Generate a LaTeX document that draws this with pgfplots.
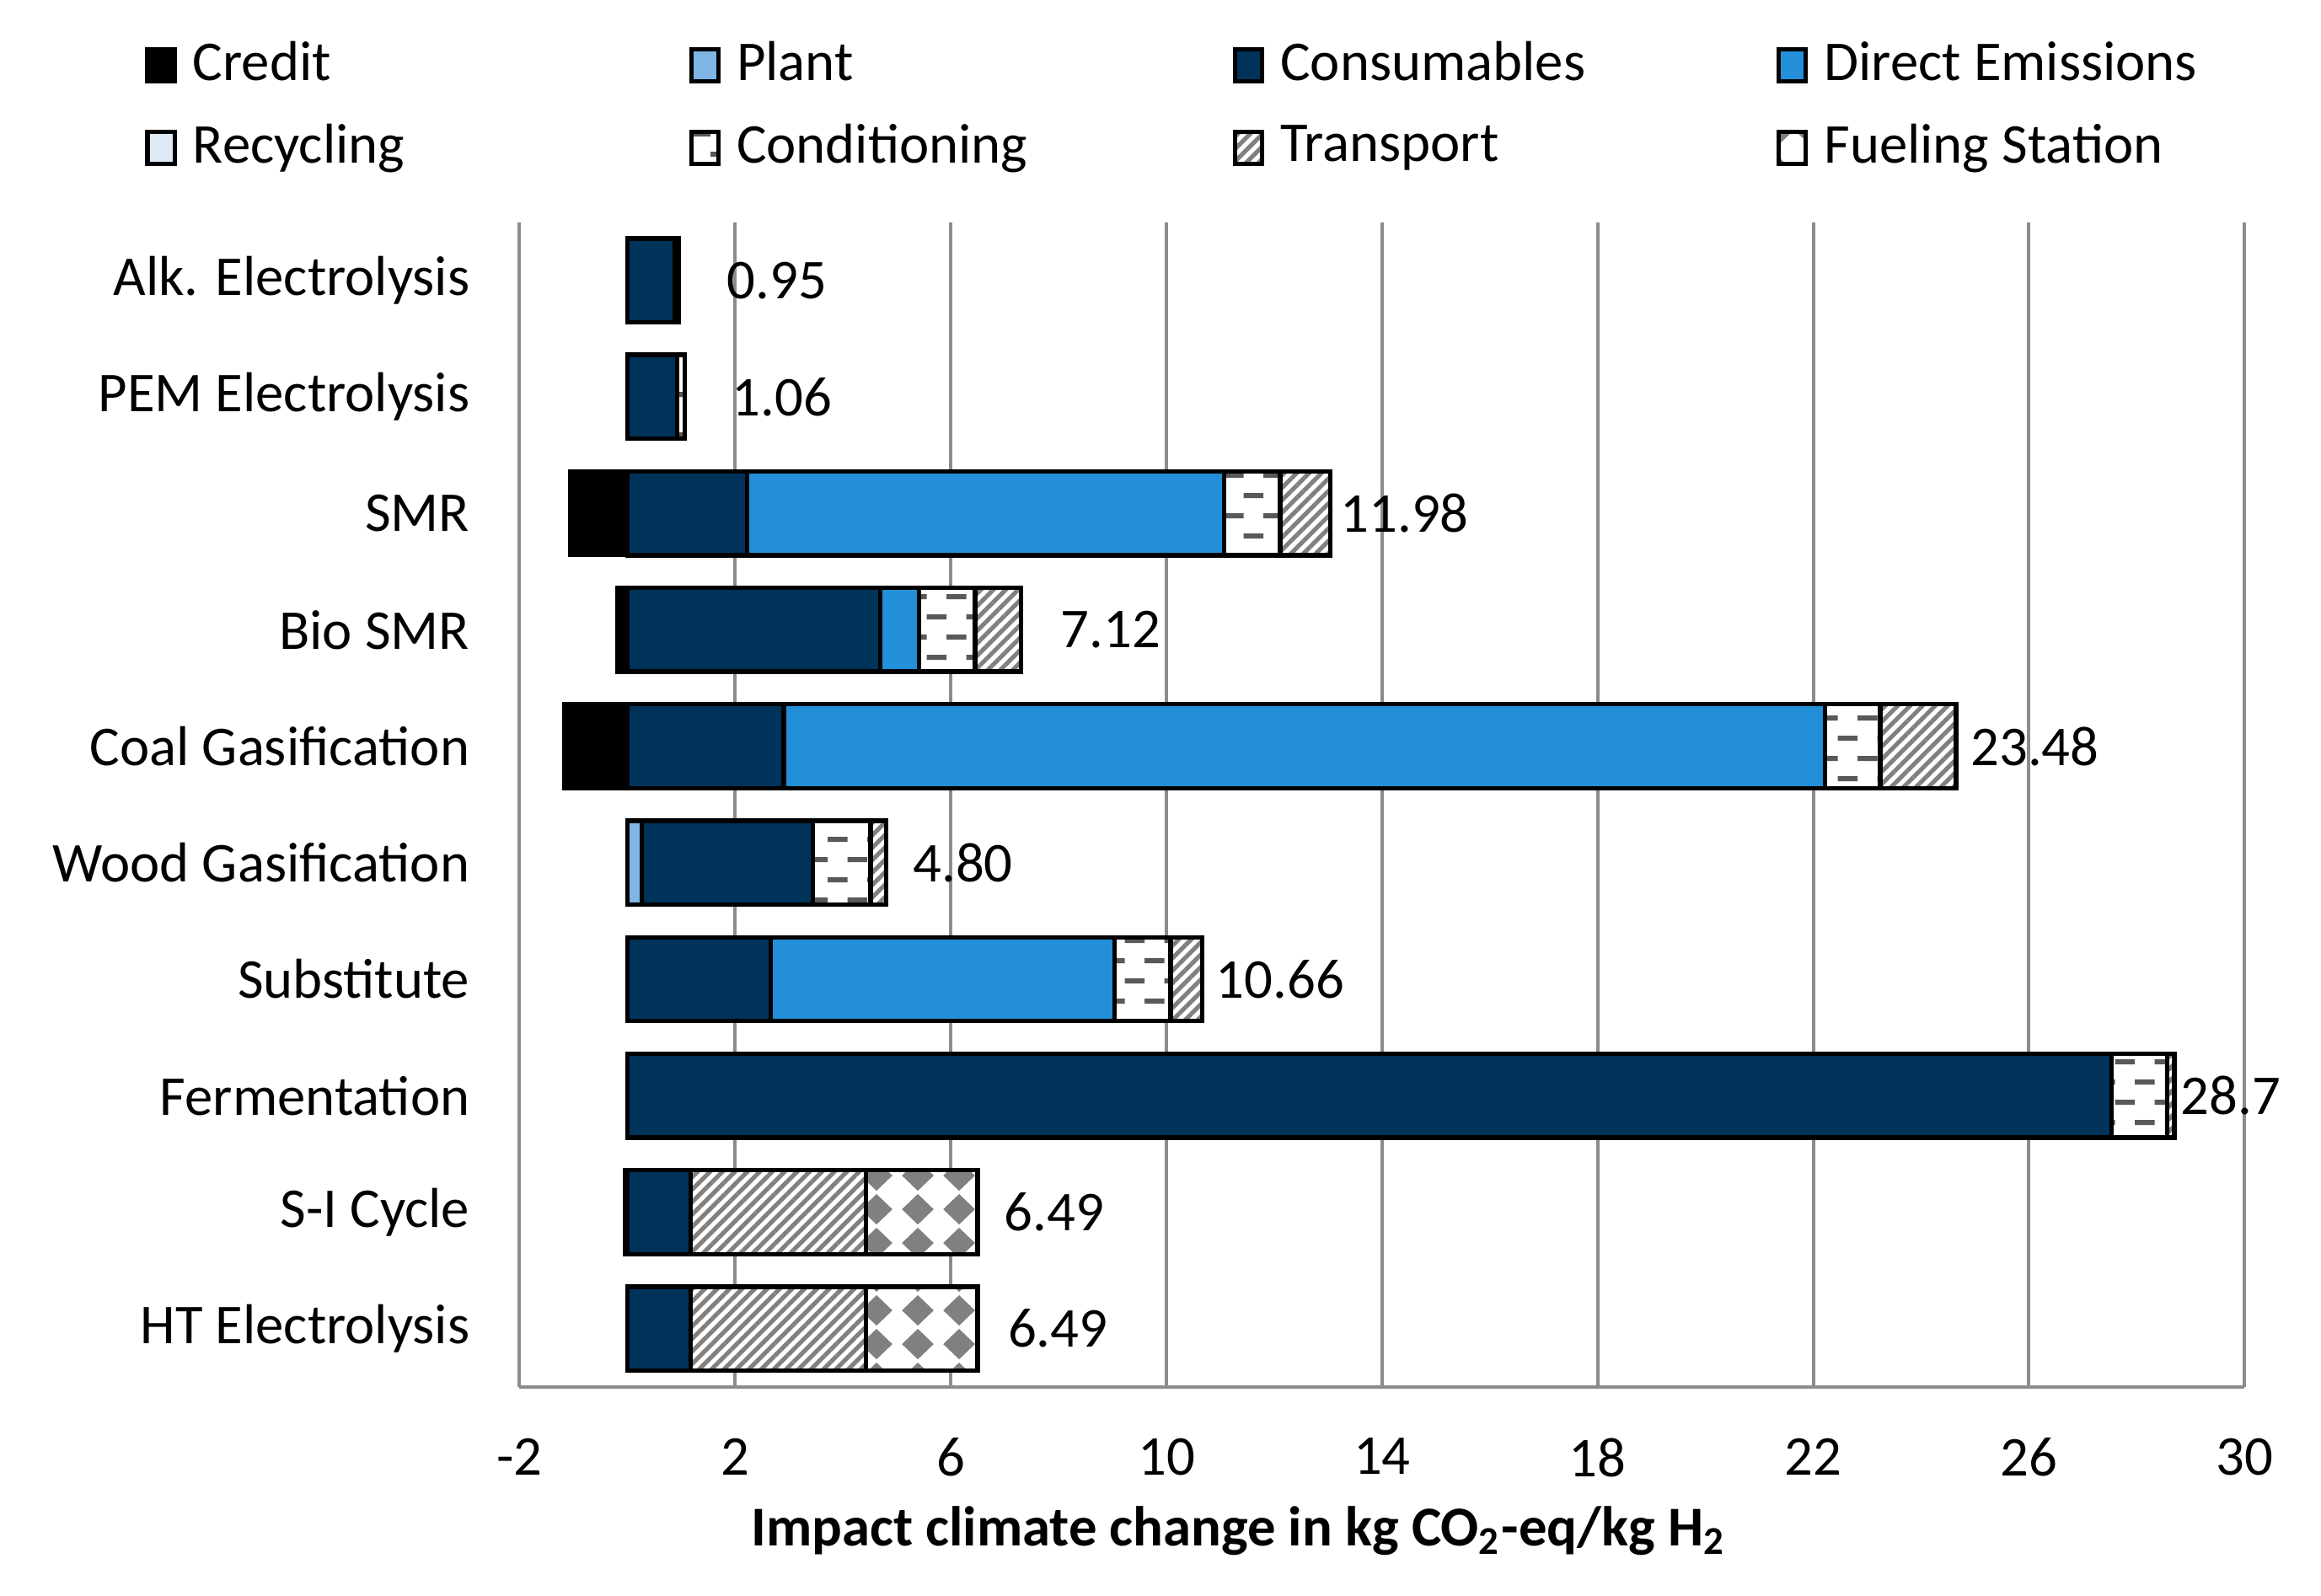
\documentclass[border=0pt]{standalone}
\usepackage{fontspec}
\setmainfont{Carlito}
\usepackage{pgfplots}
\usepackage{pgfplotstable}
\pgfplotsset{compat=1.18}
\usetikzlibrary{patterns,patterns.meta}

\definecolor{consum}{RGB}{0,51,89}
\definecolor{direct}{RGB}{34,143,216}
\definecolor{plant}{RGB}{127,182,229}
\definecolor{recyc}{RGB}{222,235,247}
\definecolor{hatch}{RGB}{128,128,128}
\definecolor{dashgray}{RGB}{89,89,89}
\definecolor{gridgray}{RGB}{140,140,140}

% dashes for Conditioning
\tikzdeclarepattern{
  name=condash, type=uncolored,
  bottom left={(0cm,0cm)}, top right={(0.25cm,0.252cm)},
  tile size={(0.25cm,0.252cm)},
  code={
    \draw[line width=0.9pt] (0.0625cm,0.063cm) -- (0.1875cm,0.063cm);
    \draw[line width=0.9pt] (0cm,0.189cm) -- (0.0625cm,0.189cm);
    \draw[line width=0.9pt] (0.1875cm,0.189cm) -- (0.25cm,0.189cm);
  }
}
% diamonds for Fueling Station
\tikzdeclarepattern{
  name=argyle, type=uncolored,
  bottom left={(0cm,0cm)}, top right={(0.255cm,0.21cm)},
  tile size={(0.255cm,0.21cm)},
  code={
    \fill (0.1275cm,0.01cm) -- (0.2275cm,0.105cm) -- (0.1275cm,0.2cm) -- (0.0275cm,0.105cm) -- cycle;
  }
}

% y: 0 = Alk. Electrolysis ... 9 = HT Electrolysis
\pgfplotstableread{
y plant cons direct recyc cond trans fuel
0 0    0.88  0     0 0.07 0    0
1 0    0.92  0     0 0.14 0    0
2 0    2.22  8.85  0 1.04 0.93 0
3 0    4.69  0.72  0 1.04 0.85 0
4 0    2.90  19.32 0 1.02 1.41 0
5 0.27 3.17  0     0 1.07 0.29 0
6 0    2.66  6.38  0 1.04 0.58 0
7 0    27.53 0     0 1.04 0.13 0
8 0    1.17  0     0 0    3.26 2.07
9 0    1.17  0     0 0    3.26 2.07
}\mainData

\pgfplotstableread{
y credit
2 -1.06
3 -0.18
4 -1.17
8 -0.04
}\creditData

\pgfplotstableread{
x y lab
1.83 0 0.95
1.92 1 1.06
13.21 2 11.98
8.02 3 7.12
24.90 4 23.48
5.28 5 4.80
10.90 6 10.66
28.80 7 28.7
6.97 8 6.49
7.04 9 6.49
}\labelData

\begin{document}
\begin{tikzpicture}
\useasboundingbox (-3.247cm,-1.304cm) rectangle (11.258cm,8.668cm);
\begin{axis}[
  scale only axis, width=10.78cm, height=7.28cm,
  xbar stacked, bar width=0.72,
  xmin=-2, xmax=30, xtick={-2,2,...,30},
  ymin=-0.5, ymax=9.5, y dir=reverse,
  ytick={0,...,9},
  yticklabels={Alk. Electrolysis, PEM Electrolysis, SMR, Bio SMR, Coal Gasification,
    Wood Gasification, Substitute, Fermentation, S-I Cycle, HT Electrolysis},
  xmajorgrids, grid style={draw=gridgray, line width=0.6pt},
  axis x line=bottom, axis y line=left,
  axis line style={-, draw=gridgray, line width=0.6pt},
  tick style={draw=none},
  /pgf/number format/assume math mode=true,
  yticklabel style={inner sep=0pt, xshift=-0.23cm},
  xticklabel style={inner sep=0pt, yshift=-0.24cm},
  xlabel={\textbf{Impact climate change in kg CO\textsubscript{2}-eq/kg H\textsubscript{2}}},
  xlabel style={at={(axis description cs:0.417,0)}, anchor=north, inner sep=0pt, yshift=-0.74cm},
  legend columns=4, legend cell align=left,
  legend style={draw=none, fill=none, at={(-0.217,1.155)}, anchor=north west,
    inner sep=0pt, outer sep=0pt, column sep=0pt, row sep=0.22cm,
    nodes={inner sep=0pt},
    /tikz/every odd column/.append style={column sep=0.10cm}},
  legend image code/.code={\draw[#1, line width=0.8pt] (0cm,-0.1cm) rectangle (0.17cm,0.1cm);},
  every axis plot/.append style={draw=black, line width=0.8pt},
]
\addlegendimage{fill=black, draw=black}
\addlegendentry{\makebox[3.1cm][l]{Credit}}
\addplot[fill=plant] table[x=plant, y=y] {\mainData};
\addlegendentry{\makebox[3.1cm][l]{Plant}}
\addplot[fill=consum] table[x=cons, y=y] {\mainData};
\addlegendentry{\makebox[3.1cm][l]{Consumables}}
\addplot[fill=direct] table[x=direct, y=y] {\mainData};
\addlegendentry{Direct Emissions}
\addplot[fill=recyc] table[x=recyc, y=y] {\mainData};
\addlegendentry{\makebox[3.1cm][l]{Recycling}}
\addplot[fill=white, postaction={pattern=condash, pattern color=dashgray}] table[x=cond, y=y] {\mainData};
\addlegendentry{\makebox[3.1cm][l]{Conditioning}}
\addplot[fill=white, postaction={pattern={Lines[angle=45, distance=0.055cm, line width=0.027cm]}, pattern color=hatch}] table[x=trans, y=y] {\mainData};
\addlegendentry{\makebox[3.1cm][l]{Transport}}
\addplot[fill=white, postaction={pattern=argyle, pattern color=hatch}] table[x=fuel, y=y] {\mainData};
\addlegendentry{Fueling Station}
\end{axis}
\begin{axis}[
  scale only axis, width=10.78cm, height=7.28cm,
  hide axis,
  xmin=-2, xmax=30, ymin=-0.5, ymax=9.5, y dir=reverse,
  nodes near coords align=horizontal,
  every node near coord/.append style={anchor=west, inner sep=0pt, text=black},
]
\addplot[xbar, bar width=0.72, bar shift=0pt, fill=black, draw=black, line width=0.8pt]
  table[x=credit, y=y] {\creditData};
\addplot[draw=none, mark=none, nodes near coords align=horizontal,
  nodes near coords, point meta=explicit symbolic]
  table[x=x, y=y, meta=lab] {\labelData};
\end{axis}
\end{tikzpicture}
\end{document}
